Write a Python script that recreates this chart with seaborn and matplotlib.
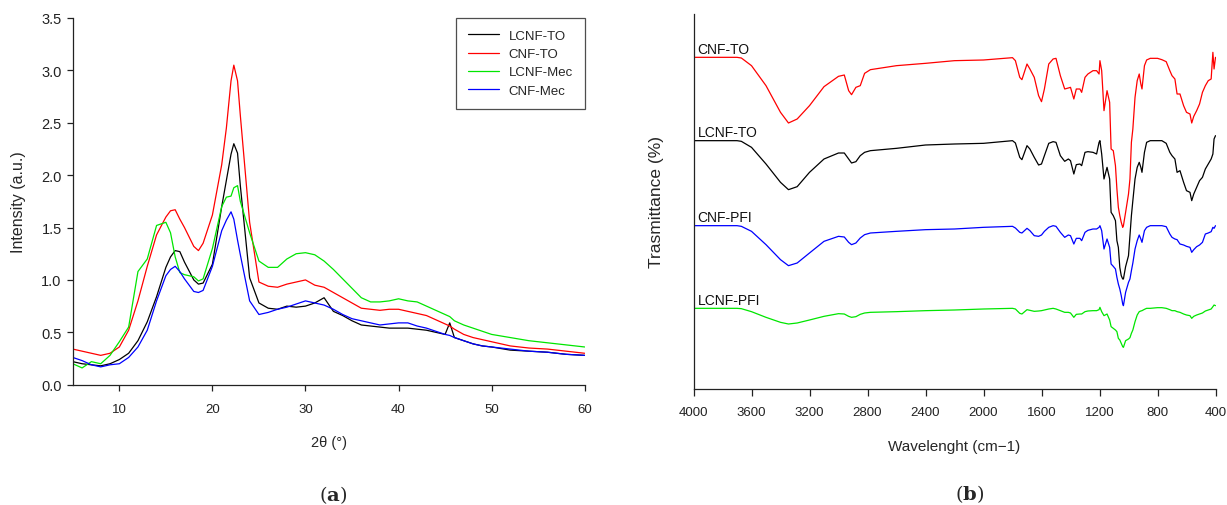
import matplotlib
matplotlib.use("Agg")
import numpy as np
import pandas as pd
import matplotlib.pyplot as plt
import seaborn as sns

# ---------------- XRD patterns (panel a) ----------------
two_theta = [5, 6, 7, 8, 9, 10, 11, 12, 13, 14, 15, 15.5, 16, 16.5, 17, 18, 18.5, 19, 20,
             21, 21.5, 22, 22.3, 22.7, 23, 24, 25, 26, 27, 28, 29, 30, 31, 32, 33, 34, 35,
             36, 37, 38, 39, 40, 41, 42, 43, 44, 45, 45.5, 46, 47, 48, 49, 50, 52, 54, 56,
             58, 60]

xrd_lcnf_to = [0.22, 0.20, 0.19, 0.18, 0.20, 0.24, 0.30, 0.42, 0.60, 0.84, 1.12, 1.22, 1.28,
               1.27, 1.17, 1.00, 0.96, 0.97, 1.15, 1.70, 1.95, 2.20, 2.30, 2.21, 1.90, 1.02,
               0.78, 0.73, 0.72, 0.75, 0.74, 0.75, 0.78, 0.83, 0.70, 0.66, 0.61, 0.57, 0.56,
               0.55, 0.54, 0.54, 0.54, 0.53, 0.52, 0.50, 0.48, 0.59, 0.45, 0.42, 0.39, 0.37,
               0.36, 0.33, 0.32, 0.31, 0.29, 0.28]

xrd_cnf_to = [0.34, 0.32, 0.30, 0.28, 0.30, 0.36, 0.52, 0.80, 1.13, 1.43, 1.60, 1.66, 1.67,
              1.58, 1.50, 1.32, 1.28, 1.35, 1.62, 2.10, 2.45, 2.90, 3.05, 2.90, 2.57, 1.55,
              0.98, 0.94, 0.93, 0.96, 0.98, 1.00, 0.95, 0.93, 0.88, 0.83, 0.78, 0.73, 0.72,
              0.71, 0.72, 0.72, 0.70, 0.68, 0.66, 0.62, 0.58, 0.56, 0.53, 0.48, 0.45, 0.43,
              0.41, 0.37, 0.35, 0.34, 0.32, 0.30]

xrd_lcnf_mec = [0.20, 0.16, 0.22, 0.20, 0.28, 0.41, 0.55, 1.08, 1.20, 1.52, 1.55, 1.45, 1.22,
                1.07, 1.05, 1.03, 0.99, 1.01, 1.30, 1.70, 1.79, 1.80, 1.88, 1.90, 1.75, 1.45,
                1.18, 1.12, 1.12, 1.20, 1.25, 1.26, 1.24, 1.18, 1.10, 1.01, 0.92, 0.83, 0.79,
                0.79, 0.80, 0.82, 0.80, 0.79, 0.75, 0.71, 0.67, 0.65, 0.61, 0.57, 0.54, 0.51,
                0.48, 0.45, 0.42, 0.40, 0.38, 0.36]

xrd_cnf_mec = [0.26, 0.23, 0.19, 0.17, 0.19, 0.20, 0.26, 0.36, 0.52, 0.80, 1.04, 1.10, 1.13,
               1.08, 1.01, 0.89, 0.88, 0.90, 1.13, 1.47, 1.57, 1.65, 1.58, 1.38, 1.24, 0.80,
               0.67, 0.69, 0.72, 0.74, 0.77, 0.80, 0.78, 0.76, 0.72, 0.67, 0.63, 0.61, 0.59,
               0.57, 0.58, 0.59, 0.59, 0.56, 0.54, 0.51, 0.48, 0.47, 0.45, 0.42, 0.39, 0.37,
               0.36, 0.34, 0.32, 0.31, 0.29, 0.28]

xrd_names = ["LCNF-TO", "CNF-TO", "LCNF-Mec", "CNF-Mec"]
xrd_colors = ["#000000", "#ff0000", "#00e600", "#0000ff"]

# ---------------- FTIR spectra (panel b) ----------------
wavenumber = [4000, 3700, 3670, 3600, 3500, 3400, 3345, 3285, 3200, 3100,
              3000, 2960, 2930, 2910, 2880, 2850, 2820, 2780, 2600, 2400,
              2200, 2000, 1800, 1780, 1750, 1735, 1700, 1680, 1650, 1620,
              1600, 1580, 1550, 1520, 1500, 1470, 1440, 1415, 1400, 1377,
              1360, 1335, 1323, 1300, 1280, 1245, 1220, 1203, 1197, 1185,
              1169, 1148, 1130, 1120, 1105, 1090, 1080, 1070, 1060, 1050,
              1040, 1035, 1020, 1000, 990, 980, 970, 955, 940, 926,
              915, 907, 890, 875, 850, 800, 770, 740, 715, 700,
              680, 665, 645, 620, 600, 576, 564, 550, 530, 510,
              490, 470, 450, 430, 418, 410, 400]

# band depth below each spectrum's flat baseline (arbitrary transmittance units)
band_cnf_to = [0, 0, 2, 25, 85, 165, 197, 185, 145, 88,
               57, 53, 100, 112, 90, 85, 48, 37, 25, 18,
               10, 8, 1, 10, 60, 67, 20, 35, 60, 115,
               133, 95, 20, 5, 3, 55, 95, 92, 90, 125,
               95, 95, 105, 60, 50, 40, 40, 50, 10, 40,
               160, 100, 135, 275, 280, 325, 395, 450, 475, 495,
               510, 505, 465, 410, 365, 255, 215, 120, 70, 50,
               80, 95, 25, 8, 3, 3, 7, 13, 40, 55,
               65, 110, 110, 145, 165, 170, 197, 177, 160, 140,
               105, 85, 70, 65, -15, 35, 0]

band_lcnf_to = [0, 0, 2, 20, 70, 125, 147, 138, 95, 55,
                37, 37, 55, 67, 63, 45, 35, 30, 23, 13,
                10, 8, 0, 7, 50, 57, 15, 25, 50, 73,
                70, 45, 8, 3, 5, 45, 62, 55, 60, 100,
                72, 70, 75, 35, 33, 35, 40, 5, 0, 40,
                115, 80, 115, 215, 225, 240, 300, 320, 380, 405,
                415, 415, 378, 345, 285, 225, 180, 115, 80, 65,
                80, 95, 35, 5, 0, 0, 0, 8, 35, 45,
                55, 95, 90, 125, 150, 155, 180, 160, 140, 120,
                110, 85, 70, 55, 40, -5, -15]

band_cnf_pfi = [0, 0, 2, 17, 57, 102, 120, 112, 82, 47,
                32, 34, 50, 57, 52, 37, 27, 22, 17, 12,
                10, 5, 2, 7, 20, 22, 8, 15, 30, 32,
                28, 17, 5, 0, 2, 20, 35, 28, 30, 55,
                38, 38, 45, 20, 14, 10, 10, 5, 0, 15,
                70, 40, 65, 115, 122, 130, 155, 175, 190, 210,
                235, 240, 200, 170, 160, 135, 112, 70, 45, 28,
                40, 50, 15, 5, 0, 0, 0, 3, 25, 35,
                40, 42, 55, 58, 62, 65, 80, 72, 63, 58,
                50, 25, 22, 18, 5, 8, 0]

band_lcnf_pfi = [0, 0, 1, 10, 27, 42, 47, 44, 35, 24,
                 16, 17, 24, 27, 25, 18, 14, 12, 10, 7,
                 5, 2, 0, 2, 15, 17, 4, 6, 9, 8,
                 7, 5, 2, 0, 2, 7, 12, 12, 14, 27,
                 18, 17, 17, 10, 8, 7, 7, 4, -3, 10,
                 22, 17, 35, 55, 60, 65, 70, 90, 95, 105,
                 115, 117, 97, 92, 88, 75, 65, 40, 20, 10,
                 8, 7, 3, 0, 0, -2, -2, 0, 4, 7,
                 7, 10, 12, 17, 20, 22, 30, 24, 20, 17,
                 14, 8, 5, 2, -5, -10, -8]

ftir_names = ["CNF-TO", "LCNF-TO", "CNF-PFI", "LCNF-PFI"]
ftir_baselines = [995, 745, 490, 242]
ftir_colors = ["#ff0000", "#000000", "#0000ff", "#00e600"]

# ---------------- long-form tables ----------------
xrd = pd.concat(
    [pd.DataFrame({"2theta": two_theta, "intensity": vals, "sample": name})
     for name, vals in zip(xrd_names, [xrd_lcnf_to, xrd_cnf_to, xrd_lcnf_mec, xrd_cnf_mec])],
    ignore_index=True)

ftir_bands = [band_cnf_to, band_lcnf_to, band_cnf_pfi, band_lcnf_pfi]
ftir = pd.concat(
    [pd.DataFrame({"wavenumber": wavenumber,
                   "transmittance": base - np.asarray(band, dtype=float),
                   "sample": name})
     for name, base, band in zip(ftir_names, ftir_baselines, ftir_bands)],
    ignore_index=True)

# ---------------- styling ----------------
sns.set_style("ticks")
plt.rcParams["font.family"] = ["Liberation Sans", "DejaVu Sans"]
plt.rcParams["mathtext.fontset"] = "dejavuserif"
plt.rcParams["axes.linewidth"] = 0.9
plt.rcParams["axes.edgecolor"] = "#222222"

W, H = 1227, 506
fig = plt.figure(figsize=(W / 100, H / 100), dpi=100)
ax1 = fig.add_axes([72.8 / W, 1 - 385.7 / H, 511.9 / W, 366.7 / H])
ax2 = fig.add_axes([693.5 / W, 1 - 390 / H, 522 / W, 375 / H])

# panel (a): XRD
sns.lineplot(data=xrd, x="2theta", y="intensity", hue="sample", hue_order=xrd_names,
             palette=xrd_colors, estimator=None, sort=False, linewidth=0.9, ax=ax1)
ax1.set_xlim(5, 60)
ax1.set_ylim(0, 3.5)
ax1.set_xticks([10, 20, 30, 40, 50, 60])
ax1.set_yticks(np.arange(0, 3.51, 0.5))
ax1.yaxis.set_major_formatter(matplotlib.ticker.FormatStrFormatter("%.1f"))
ax1.tick_params(axis="y", labelsize=10.5, length=4, width=0.9, pad=4, colors="#222222")
ax1.tick_params(axis="x", labelsize=9.5, length=4, width=0.9, pad=9, colors="#222222")
ax1.set_xlabel("2θ (°)", fontsize=10.5, va="center")
ax1.xaxis.set_label_coords(0.5, (385.7 - 443) / 366.7)
ax1.set_ylabel("Intensity (a.u.)", fontsize=11.5, va="center")
ax1.yaxis.set_label_coords((19 - 72.8) / 511.9, 0.5)
sns.despine(ax=ax1)

handles, labels = ax1.get_legend_handles_labels()
leg = ax1.legend(handles, labels, loc="upper right", bbox_to_anchor=(1.0, 1.0),
                 borderaxespad=0, frameon=True, fancybox=False, edgecolor="#222222",
                 fontsize=9.5, handlelength=2.4, handletextpad=0.7, labelspacing=0.45,
                 borderpad=0.9)
leg.get_frame().set_linewidth(0.9)
for line in leg.get_lines():
    line.set_linewidth(0.9)

# panel (b): FTIR
sns.lineplot(data=ftir, x="wavenumber", y="transmittance", hue="sample", hue_order=ftir_names,
             palette=ftir_colors, estimator=None, sort=False, linewidth=0.9, legend=False, ax=ax2)
ax2.set_xlim(4000, 400)
ax2.set_ylim(0, 1125)
ax2.set_xticks(np.arange(4000, 399, -400))
ax2.set_yticks([])
ax2.tick_params(axis="x", labelsize=9.5, length=5, width=0.9, pad=7.5, colors="#222222")
ax2.set_xlabel("Wavelenght (cm\u22121)", fontsize=11, va="center")
ax2.xaxis.set_label_coords(0.5, (390 - 447) / 375)
ax2.set_ylabel("Trasmittance (%)", fontsize=12.5, va="center")
ax2.yaxis.set_label_coords((657 - 693.5) / 522, 0.5)
sns.despine(ax=ax2)

for name, base in zip(ftir_names, ftir_baselines):
    ax2.text(3971, base + 25, name, fontsize=10, ha="left", va="center", color="#111111")

# panel letters
fig.text(333 / W, 1 - 495 / H, r"$(\mathbf{a})$", fontsize=14, ha="center", va="center")
fig.text(970 / W, 1 - 494 / H, r"$(\mathbf{b})$", fontsize=14, ha="center", va="center")

fig.savefig("out.png", dpi=100)
